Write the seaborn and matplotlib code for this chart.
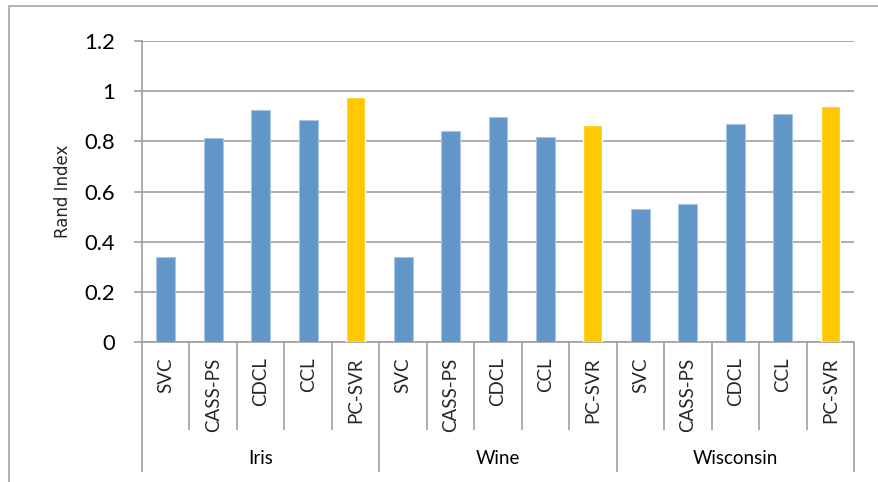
import matplotlib
matplotlib.use("Agg")
import matplotlib.pyplot as plt
import matplotlib.transforms as mtransforms
from matplotlib.patches import Rectangle
import pandas as pd
import seaborn as sns

# Rand index of each clustering method on three datasets
datasets = ["Iris", "Wine", "Wisconsin"]
methods = ["SVC", "CASS-PS", "CDCL", "CCL", "PC-SVR"]
iris_scores = [0.338, 0.812, 0.923, 0.887, 0.976]
wine_scores = [0.338, 0.842, 0.898, 0.818, 0.864]
wisconsin_scores = [0.532, 0.552, 0.868, 0.907, 0.940]
y_ticks = [0, 0.2, 0.4, 0.6, 0.8, 1.0, 1.2]
y_tick_labels = ["0", "0.2", "0.4", "0.6", "0.8", "1", "1.2"]

BLUE = "#6296C9"
GOLD = "#FFC800"
GRID = "#A0A0A0"

rows = []
for ds, scores in zip(datasets, [iris_scores, wine_scores, wisconsin_scores]):
    for m, v in zip(methods, scores):
        rows.append({"slot": f"{ds}|{m}", "dataset": ds, "method": m, "rand": v})
df = pd.DataFrame(rows)
palette = {s: (GOLD if s.endswith("PC-SVR") else BLUE) for s in df["slot"]}

sns.set_theme(style="white")
plt.rcParams["font.family"] = ["Lato", "DejaVu Sans"]

W, H = 879, 482
fig = plt.figure(figsize=(W / 100, H / 100), dpi=100)
ax = fig.add_axes([142 / W, 1 - 342 / H, (854 - 142) / W, (342 - 41) / H])

sns.barplot(data=df, x="slot", y="rand", hue="slot", palette=palette,
            legend=False, width=0.4, saturation=1, ax=ax, zorder=3)

# light outline on the blue bars
for patch in ax.patches:
    fc = patch.get_facecolor()
    if abs(fc[0] - 0x62 / 255) < 0.01:
        patch.set_edgecolor("#A9C6E5")
        patch.set_linewidth(0.8)

ax.set_ylim(0, 1.2)
ax.set_xlim(-0.5, len(df) - 0.5)
ax.set_yticks(y_ticks)
ax.set_yticklabels(y_tick_labels, fontsize=15.8, color="black")
ax.yaxis.grid(True, color=GRID, linewidth=1.2, zorder=0)
ax.set_axisbelow(True)
for side in ["top", "right"]:
    ax.spines[side].set_visible(False)
for side in ["left", "bottom"]:
    ax.spines[side].set_color(GRID)
    ax.spines[side].set_linewidth(1.2)
ax.tick_params(axis="y", left=True, length=5.5, width=1.2, color=GRID, pad=14)

ax.set_xticks(range(len(df)))
ax.set_xticklabels(df["method"], rotation=90, fontsize=13.5, va="top")
ax.tick_params(axis="x", bottom=False, length=0, pad=11)
ax.set_xlabel("")

ax.set_ylabel("Rand Index", fontsize=12, family=["DejaVu Sans"])
ax.yaxis.set_label_coords((72 - 142) / (854 - 142), 0.5)

# two-level category axis: method separators and dataset separators
trans = mtransforms.blended_transform_factory(ax.transData, ax.transAxes)
axis_h = 342 - 41
inner_bottom = -(430 - 342) / axis_h
outer_bottom = -(472 - 342) / axis_h
n_m = len(methods)
for b in range(len(df) + 1):
    xb = b - 0.5
    y1 = outer_bottom if b % n_m == 0 else inner_bottom
    ax.plot([xb, xb], [0, y1], transform=trans, color=GRID, lw=1.2,
            clip_on=False, solid_capstyle="butt")

label_y = -(459 - 342) / axis_h
for i, ds in enumerate(datasets):
    xc = i * n_m + (n_m - 1) / 2
    ax.text(xc, label_y, ds, transform=trans, ha="center", va="center",
            fontsize=13.5, color="black")

# chart frame
fig.patches.append(Rectangle((9 / W, -0.1), 1.2, 1.1 - 6 / H, transform=fig.transFigure,
                             fill=False, edgecolor="#A6A6A6", linewidth=1.2))

fig.savefig("out.png", dpi=100)
